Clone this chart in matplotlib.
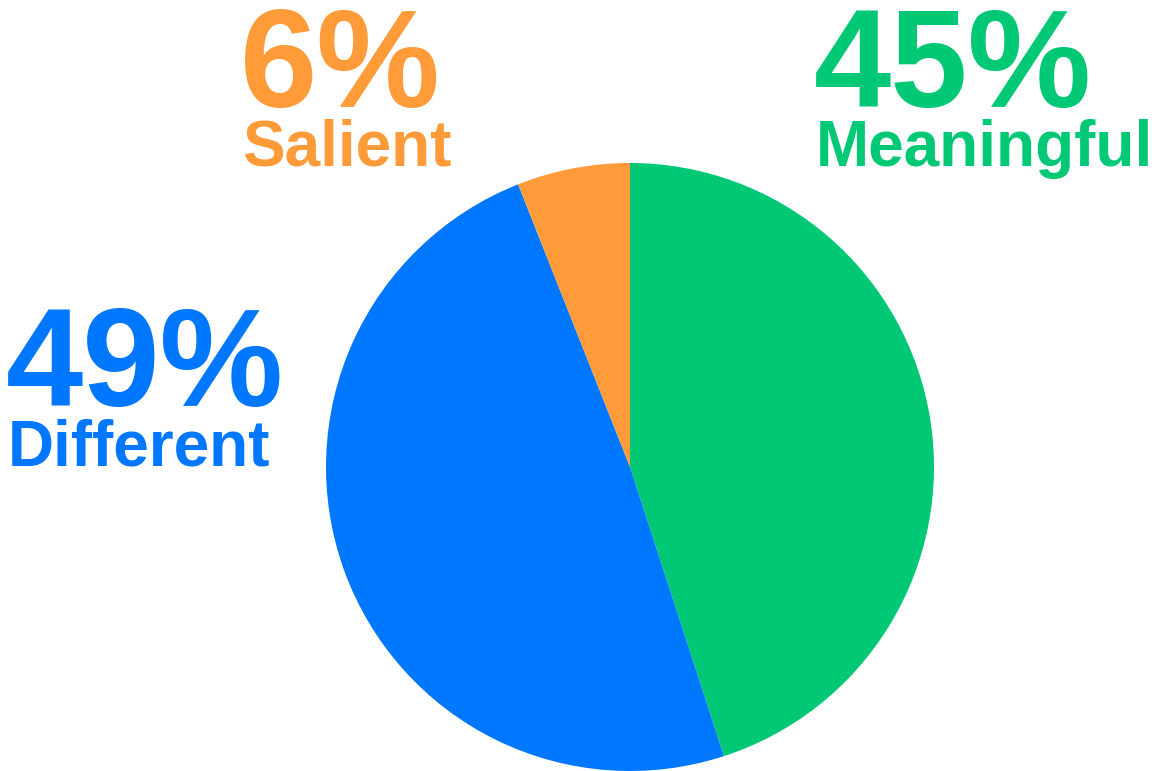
import matplotlib.pyplot as plt

# share of each attribute, drawn clockwise from 12 o'clock
labels = ['Meaningful', 'Different', 'Salient']
shares = [45, 49, 6]
colors = ['#00C875', '#0077FF', '#FF9B38']

# where each label block sits (left edge, baseline of the percentage), in pixels from top-left
label_x = [818, 10, 244]
label_y = [107, 406, 107]

W, H = 1165, 771
fig = plt.figure(figsize=(W / 100, H / 100), dpi=100)
ax = fig.add_axes([0, 0, 1, 1])

ax.pie(shares, colors=colors, startangle=90, counterclock=False,
       center=(630, H - 467), radius=304, frame=True,
       wedgeprops=dict(linewidth=0))
ax.set_xlim(0, W)
ax.set_ylim(0, H)
ax.set_aspect('equal')
ax.axis('off')

font = 'Liberation Sans'
for name, pct, col, x, y in zip(labels, shares, colors, label_x, label_y):
    ax.text(x - 4, H - y, '%d%%' % pct, color=col, fontsize=100, fontweight='bold',
            family=font, ha='left', va='baseline')
    ax.text(x - 2, H - y - 59, name, color=col, fontsize=46, fontweight='bold',
            family=font, ha='left', va='baseline')

fig.savefig('out.png', dpi=100)
